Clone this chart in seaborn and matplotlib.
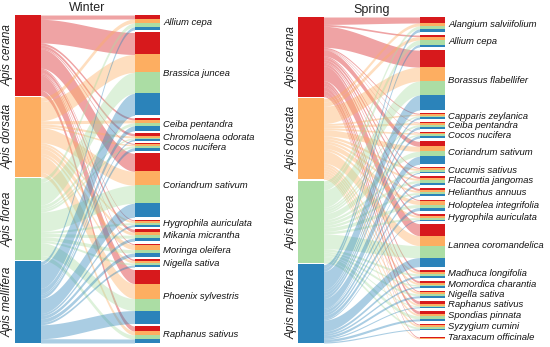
import numpy as np
import matplotlib
matplotlib.use("Agg")
import matplotlib.pyplot as plt
import seaborn as sns

sns.set_theme(style="white")
plt.rcParams['font.family'] = ['Liberation Sans', 'DejaVu Sans']

species = ["Apis cerana", "Apis dorsata", "Apis florea", "Apis mellifera"]
species_colors = ["#d7191c", "#fdae61", "#abdda4", "#2b83ba"]

winter_plants = ["Allium cepa", "Brassica juncea", "Ceiba pentandra", "Chromolaena odorata",
                 "Cocos nucifera", "Coriandrum sativum", "Hygrophila auriculata",
                 "Mikania micrantha", "Moringa oleifera", "Nigella sativa",
                 "Phoenix sylvestris", "Raphanus sativus"]
winter_cerana = [4, 22, 2, 2.5, 1, 18, 1, 3, 1, 1.5, 14, 5]
winter_dorsata = [4, 18, 3, 2, 1.5, 14, 2, 3, 5, 2.5, 15, 4]
winter_florea = [4, 21, 3, 1.5, 2, 18, 2, 3, 3.5, 2, 12, 4]
winter_mellifera = [3, 22, 5, 1.5, 3, 14, 2, 3, 3.5, 2, 13, 4]

spring_plants = ["Alangium salviifolium", "Allium cepa", "Borassus flabellifer",
                 "Capparis zeylanica", "Ceiba pentandra", "Cocos nucifera",
                 "Coriandrum sativum", "Cucumis sativus", "Flacourtia jangomas",
                 "Helianthus annuus", "Holoptelea integrifolia", "Hygrophila auriculata",
                 "Lannea coromandelica", "Madhuca longifolia", "Momordica charantia",
                 "Nigella sativa", "Raphanus sativus", "Spondias pinnata",
                 "Syzygium cumini", "Taraxacum officinale"]
spring_cerana = [6, 1.5, 17, 1, 0.5, 0.5, 5, 1, 2, 2, 1, 2, 12, 2, 2, 1, 3, 3, 1, 1]
spring_dorsata = [3, 3.5, 14, 1.5, 2, 1.5, 5, 2, 2, 2, 4, 2, 10, 2, 2, 2, 2, 2, 2, 1]
spring_florea = [3, 4.5, 14, 1.5, 2, 1.5, 5, 2, 2.5, 2, 3, 2, 12, 2, 1.5, 2, 1, 3, 2, 0]
spring_mellifera = [3, 2.5, 15, 2, 2.5, 2.5, 8, 1, 2.5, 2, 3, 1, 9, 2, 1.5, 2, 1, 2, 1, 0]

W, H = 550, 347
fig = plt.figure(figsize=(W / 100, H / 100), dpi=100)
fig.patch.set_facecolor("white")


def draw_panel(px_left, px_right, px_top, px_bottom, r_bottom, title, plants, vals,
               left_lab_x, extra_gap=None):
    extra_gap = extra_gap or {}
    width = px_right - px_left
    height = px_bottom - px_top
    ax = fig.add_axes([px_left / W, (H - px_bottom) / H, width / W, height / H])
    ax.set_xlim(0, width)
    ax.set_ylim(height, 0)
    ax.axis("off")
    node_w = 25.5
    vals = np.array(vals, dtype=float)  # species x plants
    n_sp, n_pl = vals.shape
    total = vals.sum()
    gap_l = 1.5
    r_height = r_bottom - px_top
    sc_l = (height - (n_sp - 1) * gap_l) / total
    sc_r = 1.0
    extra_total = sum(extra_gap.values())
    gap_r = (r_height - total * sc_r - extra_total) / (n_pl - 1)
    sp_tot = vals.sum(axis=1)
    pl_tot = vals.sum(axis=0)
    sp_top = np.concatenate([[0], np.cumsum(sp_tot * sc_l + gap_l)[:-1]])
    pl_top = np.zeros(n_pl)
    cur = 0.0
    for j in range(n_pl):
        if j > 0:
            cur += gap_r + extra_gap.get(j, 0)
        pl_top[j] = cur
        cur += pl_tot[j] * sc_r

    x0, x1 = node_w, width - node_w
    xs = np.linspace(x0, x1, 120)
    t = (xs - x0) / (x1 - x0)
    s = t * t * (3 - 2 * t)

    # ribbons
    for i in range(n_sp):
        lcur = sp_top[i]
        for j in range(n_pl):
            v = vals[i, j]
            if v <= 0:
                continue
            ltop = lcur
            lbot = lcur + v * sc_l
            lcur = lbot
            rtop = pl_top[j] + vals[:i, j].sum() * sc_r
            rbot = rtop + v * sc_r
            top = ltop + (rtop - ltop) * s
            bot = lbot + (rbot - lbot) * s
            ax.fill_between(xs, top, bot, color=species_colors[i], alpha=0.4, lw=0)

    # left nodes
    ax.bar([node_w / 2] * n_sp, sp_tot * sc_l, bottom=sp_top, width=node_w,
           color=species_colors, linewidth=0)
    for i in range(n_sp):
        fig.text((left_lab_x) / W, 1 - (px_top + sp_top[i] + sp_tot[i] * sc_l / 2) / H,
                 species[i], rotation=90, ha="center", va="center",
                 fontsize=8.5, style="italic", color="#222222")
    # right nodes
    for j in range(n_pl):
        bottoms = pl_top[j] + np.concatenate([[0], np.cumsum(vals[:, j])[:-1]]) * sc_r
        ax.bar([width - node_w / 2] * n_sp, vals[:, j] * sc_r, bottom=bottoms,
               width=node_w, color=species_colors, linewidth=0)
        ax.text(width + 3, pl_top[j] + pl_tot[j] * sc_r / 2, plants[j],
                ha="left", va="center", fontsize=6.8, style="italic",
                color="#111111", clip_on=False)
    ax.text(width / 2, -7, title, ha="center", va="center", fontsize=9,
            color="#222222", clip_on=False)


draw_panel(15, 160, 15, 343, 343, "Winter", winter_plants,
           [winter_cerana, winter_dorsata, winter_florea, winter_mellifera], 8)
draw_panel(298, 445, 17, 343, 339, "Spring", spring_plants,
           [spring_cerana, spring_dorsata, spring_florea, spring_mellifera], 292,
           extra_gap={19: 4})

fig.savefig("out.png", dpi=100, facecolor="white")
